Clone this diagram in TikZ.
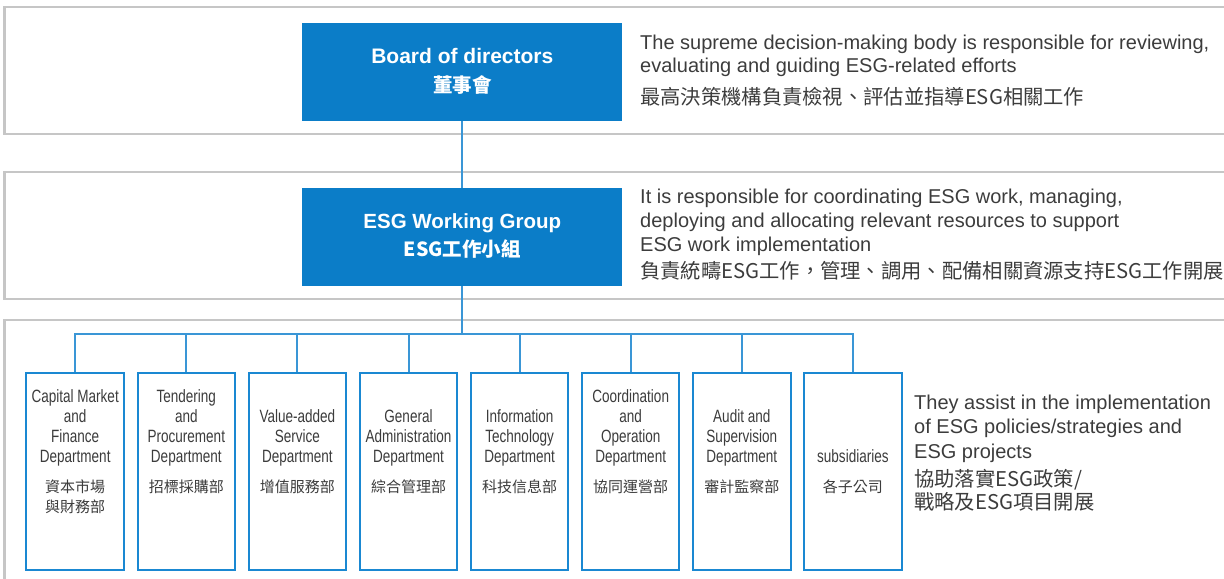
\documentclass[tikz,border=0pt]{standalone}
\usepackage{fontspec}
\setmainfont{Liberation Sans}
\newfontfamily\cjk{Noto Sans CJK TC}
\newfontfamily\narrowfont[FakeStretch=0.76]{Liberation Sans}
\definecolor{boxblue}{HTML}{0B7DC8}
\definecolor{deptblue}{HTML}{1A88D2}
\definecolor{connblue}{HTML}{3A96D6}
\definecolor{framegray}{HTML}{C6C6C6}
\definecolor{textgray}{HTML}{3C3C3C}
\begin{document}
\begin{tikzpicture}[x=1bp,y=-1bp,
  frame/.style={draw=framegray, line width=2bp},
  bluebox/.style={fill=boxblue, draw=none, minimum width=320bp, minimum height=98bp, inner sep=0pt, text=white},
  dept/.style={draw=deptblue, line width=2bp, fill=white, minimum width=97.5bp, minimum height=197bp, inner sep=0pt},
  conn/.style={draw=connblue, line width=2bp},
  depten/.style={inner sep=0pt, text=textgray, font=\narrowfont\fontsize{17.8bp}{20bp}\selectfont, anchor=base},
  deptcjk/.style={inner sep=0pt, text=textgray, font=\cjk\fontsize{15bp}{20bp}\selectfont, anchor=base},
  descen/.style={inner sep=0pt, text=textgray, anchor=base west},
  desccjk/.style={inner sep=0pt, text=textgray, anchor=base west},
]
\useasboundingbox (0,0) rectangle (1224,579);

% background frames (open to the right / bottom)
\draw[frame] (1224,7.5) -- (4.5,7.5) -- (4.5,134) -- (1224,134);
\draw[frame] (1224,172) -- (4.5,172) -- (4.5,299) -- (1224,299);
\draw[frame] (1224,319.5) -- (4.5,319.5) -- (4.5,585);

% main boxes
\node[bluebox] (board) at (462.3,72) {\begin{tabular}{@{}c@{}}{\fontsize{21bp}{25bp}\selectfont\bfseries Board of directors}\\[8bp]{\cjk\bfseries\fontsize{19.5bp}{24bp}\selectfont 董事會}\end{tabular}};
\node[bluebox] (esg) at (462.3,237) {\begin{tabular}{@{}c@{}}{\fontsize{20.5bp}{25bp}\selectfont\bfseries ESG Working Group}\\[8bp]{\cjk\bfseries\fontsize{19.5bp}{24bp}\selectfont ESG工作小組}\end{tabular}};

% department boxes
\foreach \i/\cx in {1/75.2,2/186.3,3/297.4,4/408.5,5/519.6,6/630.7,7/741.8,8/852.9}{
  \node[dept] (d\i) at (\cx,471.5) {};
}

% connectors
\coordinate (bus) at (462.3,334);
\draw[conn] (board.south) -- (esg.north);
\draw[conn] (esg.south) -- (bus);
\foreach \i in {1,...,8}{
  \draw[conn] (bus) -| (d\i.north);
}

% department texts
\node[depten] (d1e) at (d1 |- 0,462.7) {\begin{tabular}[b]{@{}c@{}}Capital Market\\and\\Finance\\Department\end{tabular}};
\node[deptcjk] (d1c) at (d1 |- 0,492) {\begin{tabular}[t]{@{}c@{}}資本市場\\與財務部\end{tabular}};
\node[depten] (d2e) at (d2 |- 0,462.7) {\begin{tabular}[b]{@{}c@{}}Tendering\\and\\Procurement\\Department\end{tabular}};
\node[deptcjk] (d2c) at (d2 |- 0,492) {\begin{tabular}[t]{@{}c@{}}招標採購部\end{tabular}};
\node[depten] (d3e) at (d3 |- 0,462.7) {\begin{tabular}[b]{@{}c@{}}Value-added\\Service\\Department\end{tabular}};
\node[deptcjk] (d3c) at (d3 |- 0,492) {\begin{tabular}[t]{@{}c@{}}增值服務部\end{tabular}};
\node[depten] (d4e) at (d4 |- 0,462.7) {\begin{tabular}[b]{@{}c@{}}General\\Administration\\Department\end{tabular}};
\node[deptcjk] (d4c) at (d4 |- 0,492) {\begin{tabular}[t]{@{}c@{}}綜合管理部\end{tabular}};
\node[depten] (d5e) at (d5 |- 0,462.7) {\begin{tabular}[b]{@{}c@{}}Information\\Technology\\Department\end{tabular}};
\node[deptcjk] (d5c) at (d5 |- 0,492) {\begin{tabular}[t]{@{}c@{}}科技信息部\end{tabular}};
\node[depten] (d6e) at (d6 |- 0,462.7) {\begin{tabular}[b]{@{}c@{}}Coordination\\and\\Operation\\Department\end{tabular}};
\node[deptcjk] (d6c) at (d6 |- 0,492) {\begin{tabular}[t]{@{}c@{}}協同運營部\end{tabular}};
\node[depten] (d7e) at (d7 |- 0,462.7) {\begin{tabular}[b]{@{}c@{}}Audit and\\Supervision\\Department\end{tabular}};
\node[deptcjk] (d7c) at (d7 |- 0,492) {\begin{tabular}[t]{@{}c@{}}審計監察部\end{tabular}};
\node[depten] (d8e) at (d8 |- 0,462.7) {\begin{tabular}[b]{@{}c@{}}subsidiaries\end{tabular}};
\node[deptcjk] (d8c) at (d8 |- 0,492) {\begin{tabular}[t]{@{}c@{}}各子公司\end{tabular}};

% descriptions
\node[descen, font=\fontsize{20bp}{23bp}\selectfont] (t1e) at (640,50) {\begin{tabular}[t]{@{}l@{}}The supreme decision-making body is responsible for reviewing,\\evaluating and guiding ESG-related efforts\end{tabular}};
\node[desccjk, font=\cjk\fontsize{20.3bp}{23bp}\selectfont] (t1c) at (640,105) {最高決策機構負責檢視、評估並指導ESG相關工作};

\node[descen, font=\fontsize{20bp}{24bp}\selectfont] (t2e) at (640,203.3) {\begin{tabular}[t]{@{}l@{}}It is responsible for coordinating ESG work, managing,\\deploying and allocating relevant resources to support\\ESG work implementation\end{tabular}};
\node[desccjk, font=\cjk\fontsize{20.3bp}{23bp}\selectfont] (t2c) at (640,279) {負責統疇ESG工作，管理、調用、配備相關資源支持ESG工作開展};

\node[descen, font=\fontsize{20bp}{24.5bp}\selectfont] (t3e) at (914,409) {\begin{tabular}[t]{@{}l@{}}They assist in the implementation\\of ESG policies/strategies and\\ESG projects\end{tabular}};
\node[desccjk, font=\cjk\fontsize{20.3bp}{22bp}\selectfont] (t3c) at (914,486) {\begin{tabular}[t]{@{}l@{}}協助落實ESG政策/\\戰略及ESG項目開展\end{tabular}};
\end{tikzpicture}
\end{document}
